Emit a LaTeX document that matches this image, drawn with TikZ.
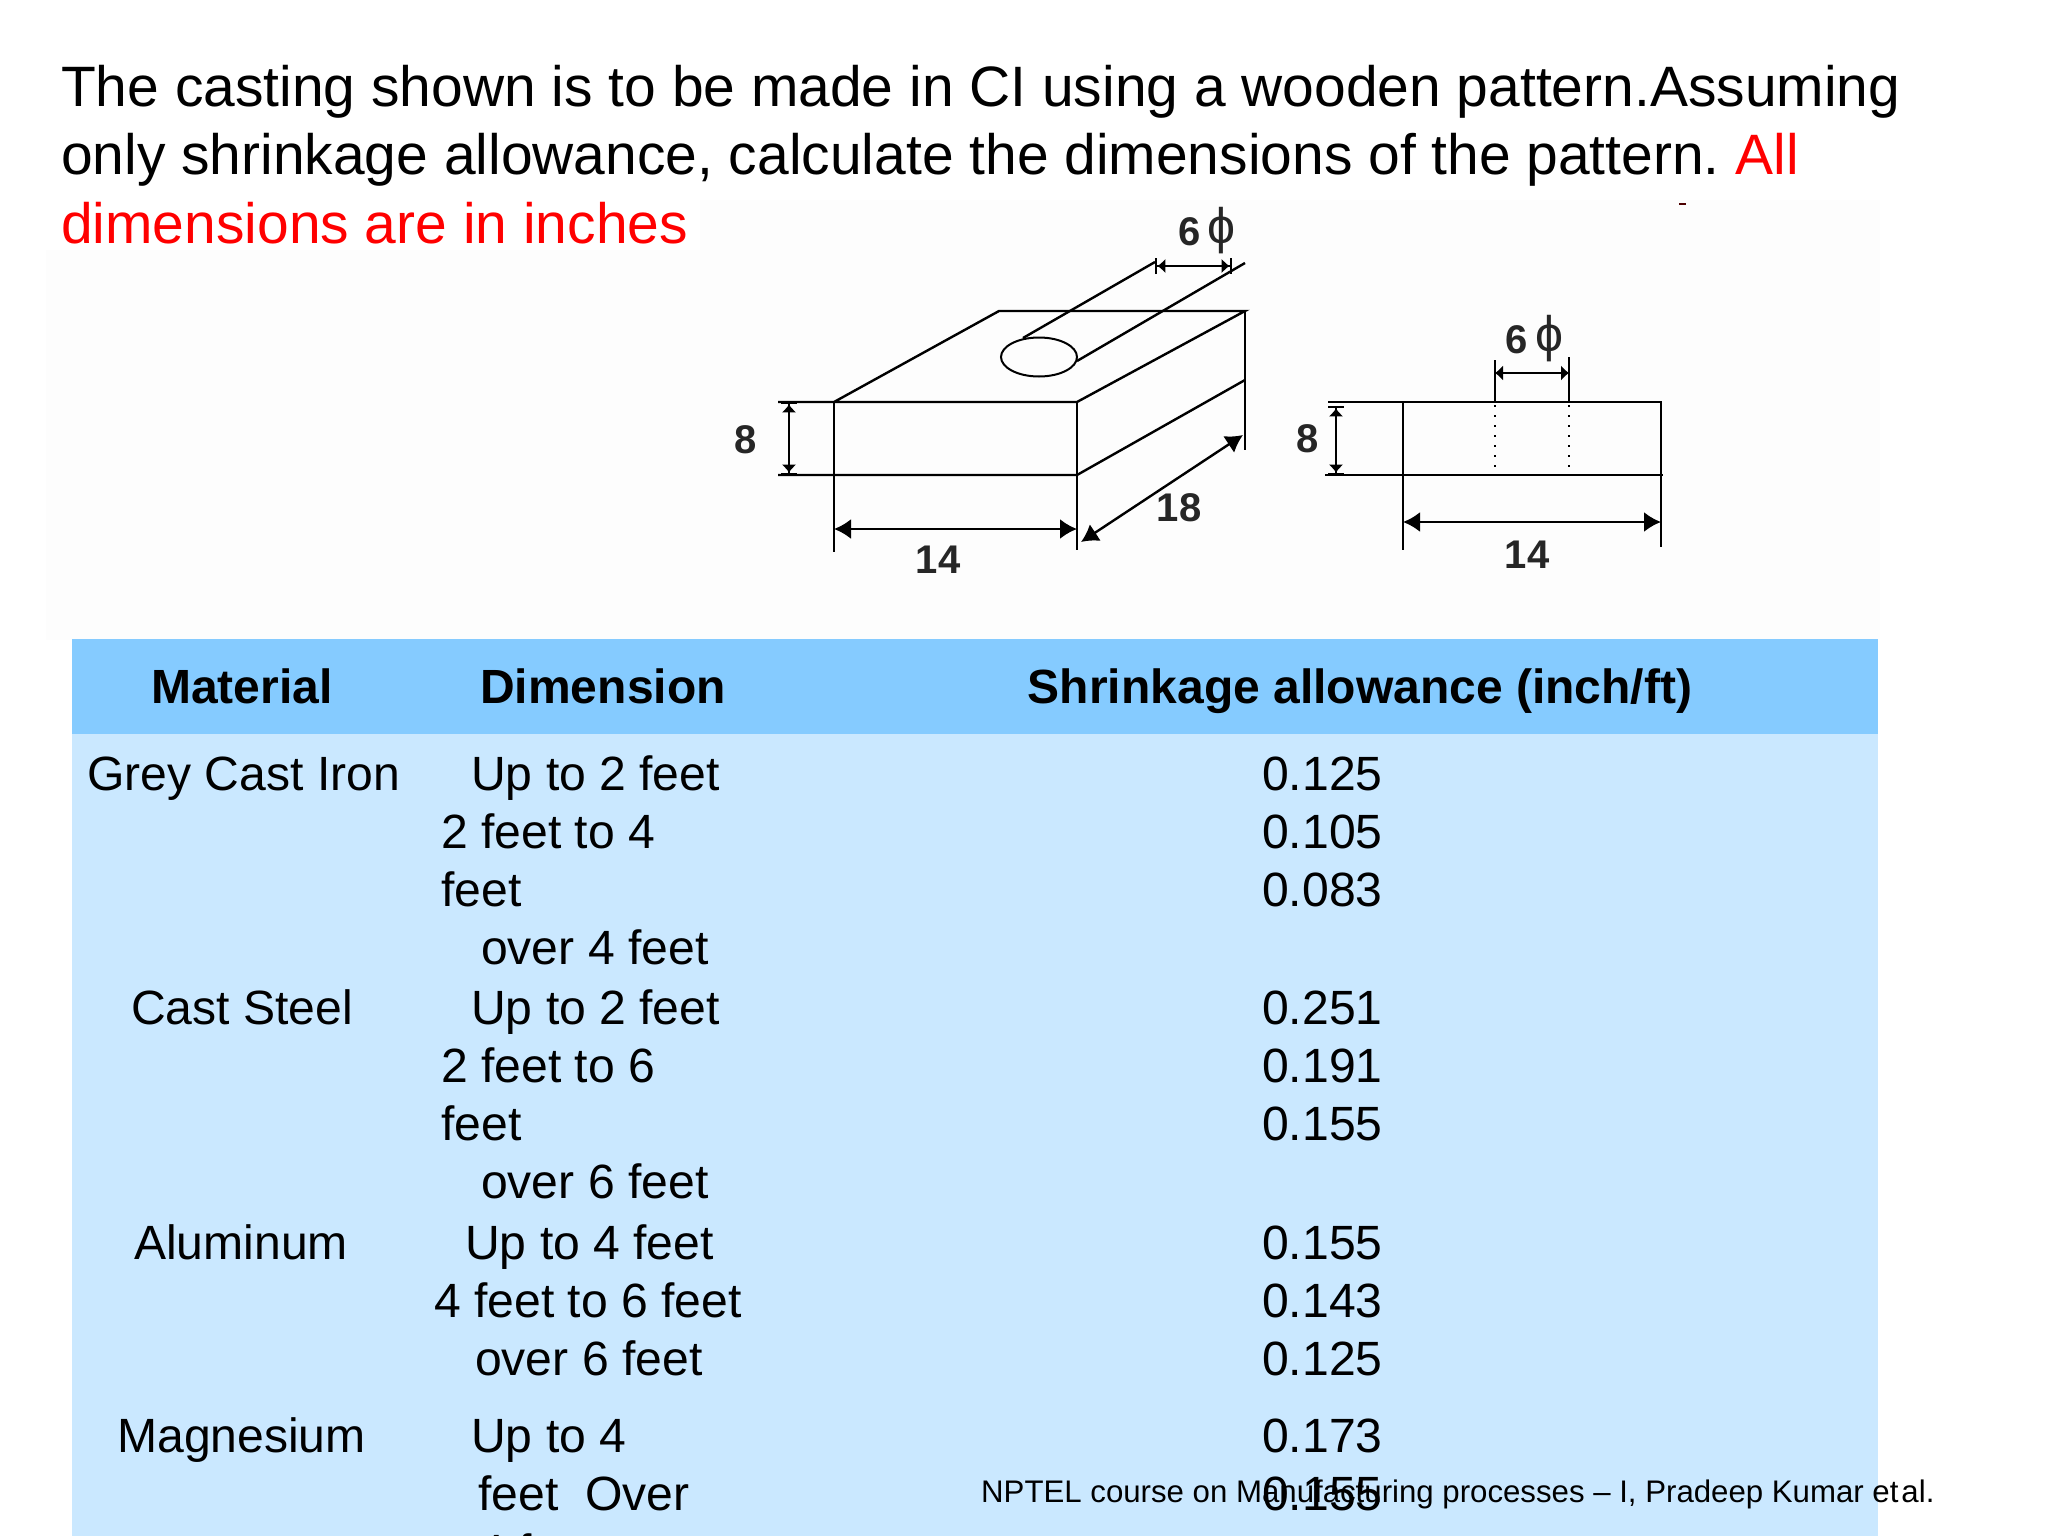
\documentclass[tikz,border=0pt]{standalone}
\usepackage{fontspec}
\setmainfont{Liberation Sans}
\usetikzlibrary{arrows.meta}
\definecolor{hdr}{HTML}{85CBFF}
\definecolor{bodyblue}{HTML}{CAE8FF}
\definecolor{patch}{HTML}{FDFDFD}
\frenchspacing
\tikzset{
  ttl/.style={anchor=base west,inner sep=0pt,font=\fontsize{56.95}{58}\selectfont},
  hd/.style={anchor=base,inner sep=0pt,font=\fontsize{48}{48}\selectfont\bfseries},
  cell/.style={anchor=base west,inner sep=0pt,font=\fontsize{48.1}{48}\selectfont},
  foot/.style={anchor=base west,inner sep=0pt,font=\fontsize{31.2}{32}\selectfont},
  dimtxt/.style={anchor=center,inner sep=0pt,font=\fontsize{40}{40}\selectfont\bfseries,text=black!85},
  phitxt/.style={anchor=center,inner sep=0pt,font=\fontsize{50}{50}\selectfont,text=black!85},
  ln/.style={draw=black,line width=2.4pt},
  dimbig/.style={ln,{Latex[length=17pt,width=20pt]}-{Latex[length=17pt,width=20pt]}},
  dimsm/.style={ln,{Bar[width=16pt]Latex[length=8pt,width=15pt]}-{Latex[length=8pt,width=15pt]Bar[width=16pt]}},
  dots/.style={draw=black,line width=2.4pt,dash pattern=on 2.4pt off 7.6pt},
}
\begin{document}
\begin{tikzpicture}[x=1pt,y=-1pt]
\useasboundingbox (0,0) rectangle (2048,1536);
\clip (0,0) rectangle (2048,1536);
\fill[white] (0,0) rectangle (2048,1536);
\fill[patch] (46,250) rectangle (1880,640);
\fill[patch] (700,200) rectangle (1880,250);
% table
\fill[hdr] (72,639) rectangle (1878,734);
\fill[bodyblue] (72,734) rectangle (1878,1536);
% title
\node[ttl] (t1) at (61,107) {The casting shown is to be made in CI using a wooden pattern.Assuming};
\node[ttl] (t2) at (61,175) {only shrinkage allowance, calculate the dimensions of the pattern. \textcolor{red}{All}};
\node[ttl,text=red] (t3) at (61,243) {dimensions are in inches};
\fill[red!30!black] (1679,203) rectangle (1686,205);
% isometric drawing
\coordinate (fl) at (834,402); \coordinate (fr) at (1077,402);
\coordinate (bl) at (834,475); \coordinate (br) at (1077,475);
\coordinate (tl) at (999,311); \coordinate (tr) at (1245,311);
\coordinate (mr) at (1245,380);
\draw[ln] (778,402) -- (fr) -- (tr) -- (tl) -- (fl);
\draw[ln] (778,475) -- (br) -- (mr);
\draw[ln] (fl) -- (834,552);
\draw[ln] (fr) -- (1077,550);
\draw[ln] (tr) -- (1245,450);
\draw[line width=2pt,black] (1039,357) ellipse [x radius=38,y radius=19.5];
\coordinate (h1a) at (1023,338); \coordinate (h1b) at (1155,262);
\coordinate (h2a) at (1077,361); \coordinate (h2b) at (1245,263);
\draw[ln] (h1a) -- (h1b);
\draw[ln] (h2a) -- (h2b);
\draw[dimsm] (1155,266) -- (1232,266);
\draw[dimsm] (789,402) -- (789,475);
\draw[dimbig] (834,529) -- (1077,529);
\draw[dimbig] (1081,542) -- (1243,435);
\node[dimtxt] (a8) at (746,440) {8};
\node[dimtxt] (a14) at (938,560) {14};
\node[dimtxt] (a18) at (1179,508) {18};
\node[dimtxt] (a6) at (1190,232) {6};
\node[phitxt] (aph) at (1221,231) {ϕ};
% side view
\draw[ln] (1328,402) -- (1661,402) -- (1661,547);
\draw[ln] (1325,475) -- (1663,475);
\draw[ln] (1403,402) -- (1403,550);
\draw[ln] (1495,402) -- (1495,360);
\draw[ln] (1569,402) -- (1569,357);
\draw[dots] (1495,405) -- (1495,475);
\draw[dots] (1569,405) -- (1569,475);
\draw[ln,{Latex[length=8pt,width=16pt]}-{Latex[length=8pt,width=16pt]}] (1495,373) -- (1569,373);
\draw[dimsm] (1336,406) -- (1336,475);
\draw[dimbig] (1403,522) -- (1661,522);
\node[dimtxt] (b8) at (1308,439) {8};
\node[dimtxt] (b14) at (1527,555) {14};
\node[dimtxt] (b6) at (1517,340) {6};
\node[phitxt] (bph) at (1549,339) {ϕ};
% header
\node[hd] (h1) at (242,703) {Material};
\node[hd] (h2) at (603,703) {Dimension};
\node[hd] (h3) at (1360,703) {Shrinkage allowance (inch/ft)};
% column 1
\node[cell] (m1) at (87,790) {Grey Cast Iron};
\node[cell] (m2) at (131,1024) {Cast Steel};
\node[cell] (m3) at (134,1259) {Aluminum};
\node[cell] (m4) at (117,1452) {Magnesium};
% column 2
\node[cell] (d1) at (471,790) {Up to 2 feet};
\node[cell] (d2) at (441,848) {2 feet to 4};
\node[cell] (d3) at (441,906) {feet};
\node[cell] (d4) at (481,964) {over 4 feet};
\node[cell] (d5) at (471,1024) {Up to 2 feet};
\node[cell] (d6) at (441,1082) {2 feet to 6};
\node[cell] (d7) at (441,1140) {feet};
\node[cell] (d8) at (481,1198) {over 6 feet};
\node[cell] (d9) at (465,1259) {Up to 4 feet};
\node[cell] (d10) at (434,1317) {4 feet to 6 feet};
\node[cell] (d11) at (475,1375) {over 6 feet};
\node[cell] (d12) at (471,1452) {Up to 4};
\node[cell] (d13) at (478,1510) {feet\ \ Over};
\node[cell] (d14) at (478,1568) {4 feet};
% column 3
\foreach \n/\y/\v in {v1/790/0.125,v2/848/0.105,v3/906/0.083,v4/1024/0.251,v5/1082/0.191,v6/1140/0.155,v7/1259/0.155,v8/1317/0.143,v9/1375/0.125,v10/1452/0.173,v11/1510/0.155}
  \node[cell] (\n) at (1262,\y) {\v};
% footer
\node[foot] (f) at (981,1502) {NPTEL course on Manufacturing processes – I, Pradeep Kumar et\hspace{3pt}al.};
\end{tikzpicture}
\end{document}
